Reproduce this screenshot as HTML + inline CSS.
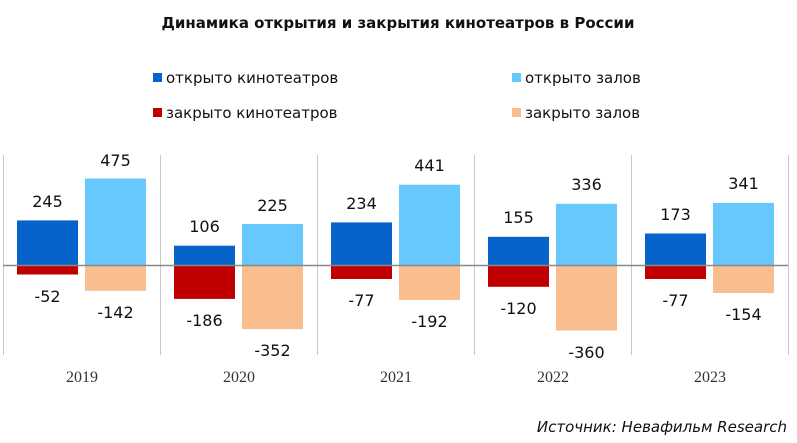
<!DOCTYPE html>
<html><head><meta charset="utf-8"><style>
html,body{margin:0;padding:0;background:#fff;}
svg{display:block;}
text{font-family:"DejaVu Sans","Liberation Sans",sans-serif;fill:#111;}
.y{font-family:"Liberation Serif",serif;fill:#333;}
</style></head><body>
<svg width="797" height="443" viewBox="0 0 797 443" xmlns="http://www.w3.org/2000/svg">
<text x="398" y="28" text-anchor="middle" font-size="15" font-weight="bold">Динамика открытия и закрытия кинотеатров в России</text>
<rect x="153" y="73" width="9" height="9" fill="#0563c9"/>
<text x="166" y="83" font-size="15">открыто кинотеатров</text>
<rect x="512" y="73" width="9" height="9" fill="#66c8fd"/>
<text x="525" y="83" font-size="15">открыто залов</text>
<rect x="153" y="108" width="9" height="9" fill="#c00000"/>
<text x="166" y="118" font-size="15">закрыто кинотеатров</text>
<rect x="512" y="108" width="9" height="9" fill="#f9be90"/>
<text x="525" y="118" font-size="15">закрыто залов</text>
<g stroke="#c8c8c8" stroke-width="1">
<line x1="3.5" y1="155" x2="3.5" y2="355"/><line x1="160.5" y1="155" x2="160.5" y2="355"/>
<line x1="317.5" y1="155" x2="317.5" y2="355"/><line x1="474.5" y1="155" x2="474.5" y2="355"/>
<line x1="631.5" y1="155" x2="631.5" y2="355"/><line x1="788.5" y1="155" x2="788.5" y2="355"/>
</g>
<g>
<rect x="17" y="220.4" width="61" height="44.6" fill="#0563c9"/>
<rect x="85" y="178.5" width="61" height="86.5" fill="#66c8fd"/>
<rect x="17" y="265" width="61" height="9.5" fill="#c00000"/>
<rect x="85" y="265" width="61" height="25.8" fill="#f9be90"/>
<rect x="174" y="245.7" width="61" height="19.3" fill="#0563c9"/>
<rect x="242" y="224" width="61" height="41" fill="#66c8fd"/>
<rect x="174" y="265" width="61" height="33.9" fill="#c00000"/>
<rect x="242" y="265" width="61" height="64.1" fill="#f9be90"/>
<rect x="331" y="222.4" width="61" height="42.6" fill="#0563c9"/>
<rect x="399" y="184.7" width="61" height="80.3" fill="#66c8fd"/>
<rect x="331" y="265" width="61" height="14" fill="#c00000"/>
<rect x="399" y="265" width="61" height="34.9" fill="#f9be90"/>
<rect x="488" y="236.8" width="61" height="28.2" fill="#0563c9"/>
<rect x="556" y="203.8" width="61" height="61.2" fill="#66c8fd"/>
<rect x="488" y="265" width="61" height="21.8" fill="#c00000"/>
<rect x="556" y="265" width="61" height="65.5" fill="#f9be90"/>
<rect x="645" y="233.5" width="61" height="31.5" fill="#0563c9"/>
<rect x="713" y="202.9" width="61" height="62.1" fill="#66c8fd"/>
<rect x="645" y="265" width="61" height="14" fill="#c00000"/>
<rect x="713" y="265" width="61" height="28" fill="#f9be90"/>
</g>
<g font-size="16" text-anchor="middle">
<text x="47.5" y="207">245</text><text x="115.5" y="166">475</text><text x="47.5" y="302">-52</text><text x="115.5" y="318">-142</text>
<text x="204.5" y="232">106</text><text x="272.5" y="211">225</text><text x="204.5" y="326">-186</text><text x="272.5" y="356">-352</text>
<text x="361.5" y="209">234</text><text x="429.5" y="171">441</text><text x="361.5" y="306">-77</text><text x="429.5" y="327">-192</text>
<text x="518.5" y="223">155</text><text x="586.5" y="190">336</text><text x="518.5" y="314">-120</text><text x="586.5" y="358">-360</text>
<text x="675.5" y="220">173</text><text x="743.5" y="189">341</text><text x="675.5" y="306">-77</text><text x="743.5" y="320">-154</text>
</g>
<line x1="3" y1="265.5" x2="788" y2="265.5" stroke="#888" stroke-width="1.5"/>
<g font-size="16" text-anchor="middle">
<text class="y" x="82" y="382">2019</text>
<text class="y" x="239" y="382">2020</text>
<text class="y" x="396" y="382">2021</text>
<text class="y" x="553" y="382">2022</text>
<text class="y" x="710" y="382">2023</text>
</g>
<text x="787" y="432" text-anchor="end" font-size="15" font-style="italic">Источник: Невафильм Research</text>
</svg>
</body></html>
